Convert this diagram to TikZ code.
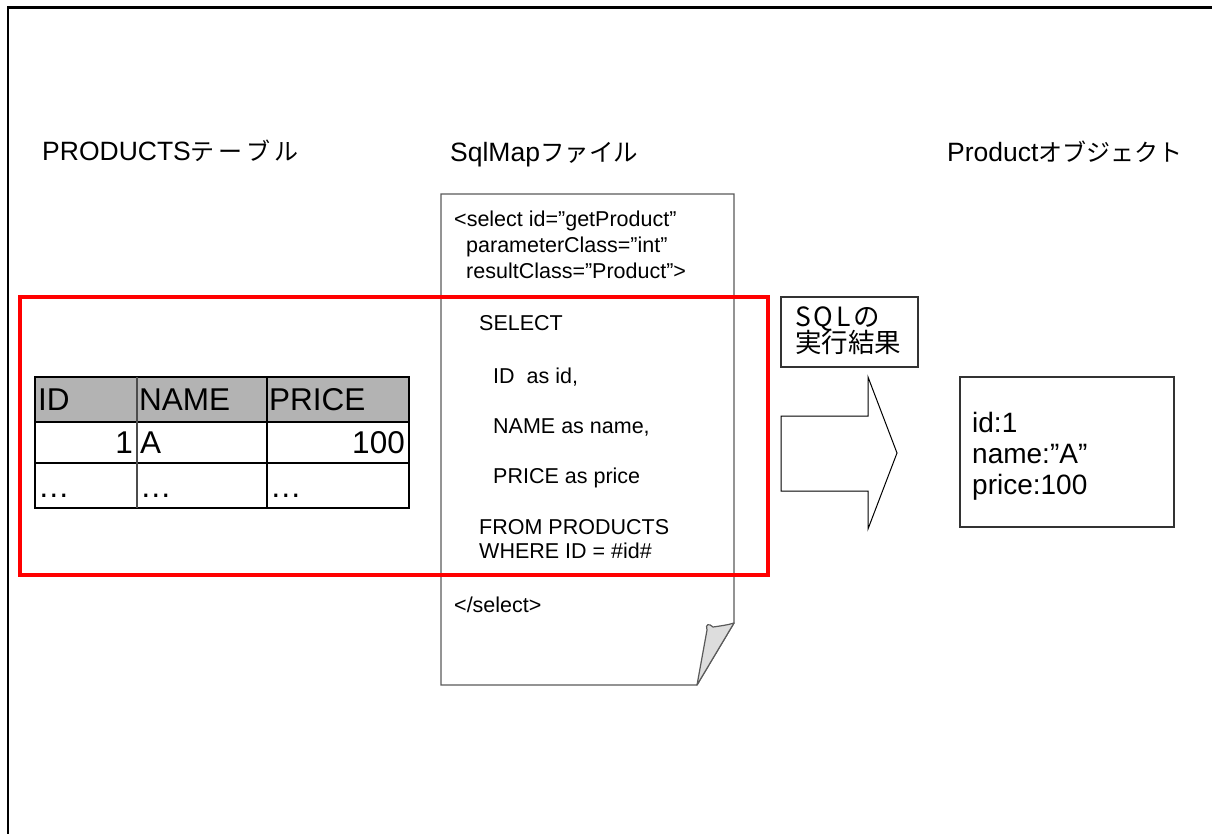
\documentclass[tikz,border=0pt]{standalone}
\usepackage{fontspec}
\setmainfont{Liberation Sans}
\newfontfamily\jp{Noto Sans CJK JP}
\newfontfamily\jpp{Noto Sans CJK JP}[RawFeature=+pwid]
\definecolor{hdrgray}{RGB}{179,179,179}
\definecolor{docgray}{RGB}{90,90,90}
\definecolor{foldgray}{RGB}{221,221,221}
\begin{document}
\begin{tikzpicture}[x=1pt,y=-1pt,
  hdr/.style={anchor=base west, inner sep=0pt, font=\fontsize{26.5}{30}\selectfont},
  code/.style={anchor=base west, inner sep=0pt, font=\fontsize{21.5}{24}\selectfont},
  cellw/.style={anchor=base west, inner sep=0pt, font=\fontsize{31.5}{34}\selectfont},
  celle/.style={anchor=base east, inner sep=0pt, font=\fontsize{31.5}{34}\selectfont},
  obj/.style={anchor=base west, inner sep=0pt, font=\fontsize{28}{32}\selectfont},
  lbltext/.style={anchor=base west, inner sep=0pt, font=\fontsize{26.5}{30}\selectfont},
  boxline/.style={draw=black!80, line width=1.1pt},
  ]
\useasboundingbox (0,0) rectangle (1212,834);

% frame
\draw[line width=3pt] (7,8) -- (1212,8);
\draw[line width=1.5pt] (8,8) -- (8,834);

% headers
\node[hdr] (th) at (42,161) {PRODUCTS{\jp\fontsize{24}{28}\selectfont テ\hspace{4pt}ー\hspace{4pt}ブ\hspace{4pt}ル}};
\node[hdr] (sh) at (450,162) {SqlMap{\jp\fontsize{24.5}{28}\selectfont ファイル}};
\node[hdr] (oh) at (947,162) {Product{\jp\fontsize{24}{28}\selectfont オブジェクト}};

% table
\fill[hdrgray] (35,377) rectangle (409,422);
\draw[line width=1.2pt] (35,377) rectangle (409,508);
\draw[line width=1.2pt] (35,422) -- (409,422);
\draw[line width=1.2pt] (35,463) -- (409,463);
\draw[line width=2pt, draw=black!70] (137,377) -- (137,508);
\draw[line width=1.2pt] (267,377) -- (267,508);
\node[cellw] (hid) at (38,410) {ID};
\node[cellw] (hname) at (139,410) {NAME};
\node[cellw] (hprice) at (269,410) {PRICE};
\node[celle] (v1) at (133,453) {1};
\node[cellw] (va) at (140,453) {A};
\node[celle] (v100) at (405,453) {100};
\node[cellw] (d1) at (38,497) {…};
\node[cellw] (d2) at (140,497) {…};
\node[cellw] (d3) at (270,497) {…};

% sqlmap document
\draw[draw=docgray, line width=1.2pt, fill=white] (441,194) -- (734,194) -- (734,623) -- (697,685) -- (441,685) -- cycle;
\filldraw[fill=foldgray, draw=docgray, line width=1.2pt, line join=round]
  (734,623) -- (697,685) -- (707,630) .. controls (705,624) and (709,623) .. (713,627)
  .. controls (720,626) and (728,625) .. (734,623) -- cycle;
\node[code] (c1) at (454,227) {<select id=”getProduct”};
\node[code] (c2) at (466,253) {parameterClass=”int”};
\node[code] (c3) at (466,279) {resultClass=”Product”>};
\node[code] (c4) at (479,330) {SELECT};
\node[code] (c5) at (493,383) {ID\ \ as id,};
\node[code] (c6) at (493,433) {NAME as name,};
\node[code] (c7) at (493,483) {PRICE as price};
\node[code] (c8) at (479,534) {FROM PRODUCTS};
\node[code] (c9) at (479,558) {WHERE ID = \#id\#};
\node[code] (c10) at (454,612) {</select>};

% result arrow
\draw[line width=1pt] (781,416) -- (868,416) -- (868,377) -- (897,453) -- (868,529) -- (868,491) -- (781,491) -- cycle;

% label box
\node[boxline, minimum width=137pt, minimum height=70pt, inner sep=0pt] (lbl) at (849.5,332) {};
\node[lbltext] (l1) at (795,326) {\jpp Ｓ\hspace{3pt}Ｑ\hspace{3pt}Ｌ\hspace{2pt}の};
\node[lbltext] (l2) at (795,352) {\jp 実行結果};

% object box
\node[boxline, minimum width=214pt, minimum height=150pt, inner sep=0pt] (objbox) at (1067,452) {};
\node[obj] (o1) at (972,432) {id:1};
\node[obj] (o2) at (972,463) {name:”A”};
\node[obj] (o3) at (972,494) {price:100};

% highlight
\node[draw=red, line width=3.5pt, minimum width=748pt, minimum height=278pt, inner sep=0pt] (hl) at (394,436) {};
\end{tikzpicture}
\end{document}
